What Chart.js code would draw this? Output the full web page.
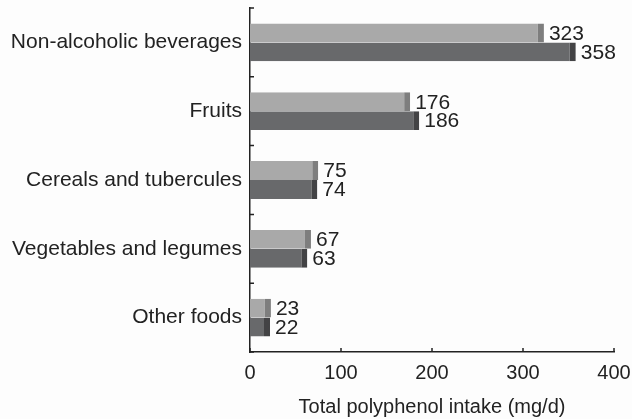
<!DOCTYPE html>
<html lang="en">
<head>
  <meta charset="UTF-8">
  <title>Total polyphenol intake</title>
  <style>
    html, body { margin: 0; padding: 0; background: #fdfdfd; }
    #wrap { width: 632px; height: 419px; }
  </style>
</head>
<body>
  <div id="wrap"><canvas id="chart" width="632" height="419"></canvas></div>

  <script src="https://cdn.jsdelivr.net/npm/chart.js"></script>
  <script>
    const categories = ['Non-alcoholic beverages', 'Fruits', 'Cereals and tubercules', 'Vegetables and legumes', 'Other foods'];
    const seriesLight = [323, 176, 75, 67, 23];
    const seriesDark = [358, 186, 74, 63, 22];
    const xTicks = [0, 100, 200, 300, 400];

    const ink = '#222222';
    const font = 'Liberation Sans, Arial, sans-serif';

    // inward tick marks on both axes
    const tickMarks = {
      id: 'tickMarks',
      afterDraw(chart) {
        const ctx = chart.ctx;
        const x = chart.scales.x, y = chart.scales.y;
        ctx.save();
        ctx.strokeStyle = ink;
        ctx.lineWidth = 1.5;
        ctx.beginPath();
        xTicks.forEach(v => {
          const px = x.getPixelForValue(v);
          ctx.moveTo(px, x.top);
          ctx.lineTo(px, x.top - 4);
        });
        const n = categories.length;
        for (let i = 0; i <= n; i++) {
          const py = y.top + i * (y.bottom - y.top) / n;
          ctx.moveTo(y.right, py);
          ctx.lineTo(y.right + 4, py);
        }
        ctx.stroke();
        ctx.restore();
      }
    };

    // value labels at the end of each bar
    const valueLabels = {
      id: 'valueLabels',
      afterDatasetsDraw(chart) {
        const ctx = chart.ctx;
        ctx.save();
        ctx.fillStyle = ink;
        ctx.font = '21px ' + font;
        ctx.textAlign = 'left';
        ctx.textBaseline = 'middle';
        chart.data.datasets.forEach((ds, di) => {
          chart.getDatasetMeta(di).data.forEach((bar, i) => {
            ctx.fillText(ds.data[i], bar.x + 5, bar.y + 1);
          });
        });
        ctx.restore();
      }
    };

    new Chart(document.getElementById('chart'), {
      type: 'bar',
      data: {
        labels: categories,
        datasets: [{
          data: seriesLight,
          backgroundColor: '#a9a9a9',
          borderColor: '#7e7e7e',
          borderWidth: { top: 0, right: 6, bottom: 0, left: 0 },
          borderSkipped: false,
          categoryPercentage: 0.55,
          barPercentage: 1
        }, {
          data: seriesDark,
          backgroundColor: '#68696b',
          borderColor: '#434345',
          borderWidth: { top: 0, right: 6, bottom: 0, left: 0 },
          borderSkipped: false,
          categoryPercentage: 0.55,
          barPercentage: 1
        }]
      },
      options: {
        indexAxis: 'y',
        responsive: false,
        animation: false,
        layout: { padding: { top: 8, right: 18, bottom: 0, left: 0 } },
        plugins: { legend: { display: false }, tooltip: { enabled: false } },
        scales: {
          x: {
            min: 0,
            max: 400,
            afterBuildTicks: s => { s.ticks = xTicks.map(v => ({ value: v })); },
            afterFit: s => { s.height = 67; s.paddingLeft = 0; s.paddingRight = 0; },
            grid: { display: false, drawTicks: false },
            border: { display: true, color: ink, width: 1.5 },
            ticks: { color: ink, font: { size: 20, family: font }, padding: 9, maxRotation: 0 },
            title: {
              display: true,
              text: 'Total polyphenol intake (mg/d)',
              color: ink,
              font: { size: 20, family: font },
              padding: 0
            }
          },
          y: {
            afterFit: s => { s.width = 250; s.paddingTop = 0; s.paddingBottom = 0; },
            grid: { display: false, drawTicks: false },
            border: { display: true, color: ink, width: 1.5 },
            ticks: { color: ink, font: { size: 21, family: font }, padding: 8 }
          }
        }
      },
      plugins: [tickMarks, valueLabels]
    });
  </script>
</body>
</html>
